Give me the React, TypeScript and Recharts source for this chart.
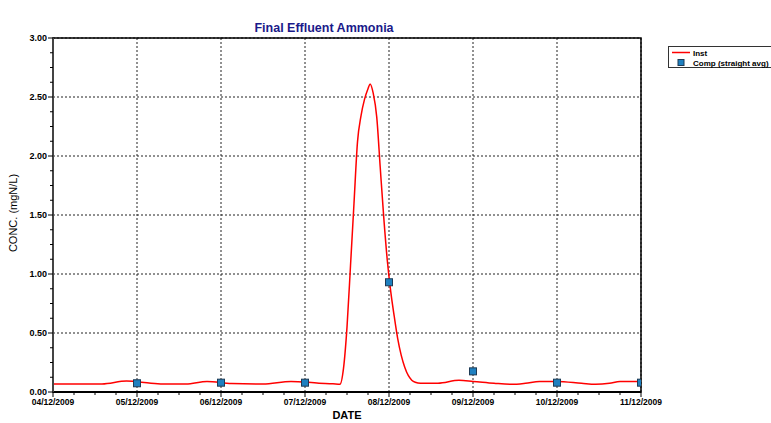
import React from "react";
import {
  ComposedChart,
  Line,
  XAxis,
  YAxis,
  CartesianGrid,
  ReferenceArea,
  Legend,
} from "recharts";

// hours since 04/12/2009 00:00
const instHours = [
  0, 8, 14, 21, 28, 32, 38, 44, 51, 60, 68, 76, 80, 82, 83, 84, 85, 86, 87, 88,
  89, 90, 90.6, 91.5, 92.5, 93.5, 94.5, 95.5, 96.5, 97.5, 98.5, 99.5, 100.5,
  101.5, 102.5, 103.5, 105, 110, 116, 120, 126, 131, 135, 139, 144, 151, 155,
  159, 162, 168,
];
const instValues = [
  0.068, 0.068, 0.068, 0.093, 0.075, 0.068, 0.068, 0.09, 0.072, 0.068, 0.09,
  0.075, 0.07, 0.066, 0.2, 0.55, 1.07, 1.6, 2.12, 2.34, 2.48, 2.57, 2.61, 2.53,
  2.33, 1.9, 1.48, 1.12, 0.85, 0.64, 0.45, 0.31, 0.21, 0.14, 0.1, 0.082, 0.074,
  0.074, 0.099, 0.09, 0.074, 0.065, 0.074, 0.09, 0.09, 0.074, 0.065, 0.074,
  0.09, 0.09,
];

const compHours = [24, 48, 72, 96, 120, 144, 168];
const compValues = [0.074, 0.079, 0.079, 0.93, 0.175, 0.079, 0.079];

const dateLabels = [
  "04/12/2009",
  "05/12/2009",
  "06/12/2009",
  "07/12/2009",
  "08/12/2009",
  "09/12/2009",
  "10/12/2009",
  "11/12/2009",
];
const yMajorTicks = [0, 0.5, 1, 1.5, 2, 2.5, 3];

const instData = instHours.map((h, i) => ({ h, v: instValues[i] }));
const compData = compHours.map((h, i) => ({ h, v: compValues[i] }));

const dayHours = dateLabels.map((_, i) => i * 24);
const xTicks = dayHours.flatMap((h, i) =>
  i < dayHours.length - 1 ? [h, h + 6, h + 12, h + 18] : [h]
);
const yTicks = yMajorTicks.flatMap((v, i) =>
  i < yMajorTicks.length - 1 ? [v, v + 0.125, v + 0.25, v + 0.375] : [v]
);

const FONT = "'Liberation Sans', Arial, sans-serif";

const DateTick = (props: any) => {
  const { x, y, payload } = props;
  const h = payload.value;
  const major = h % 24 === 0;
  return (
    <g>
      <line x1={x} x2={x} y1={y} y2={y + (major ? 5 : 3)} stroke="#000" />
      {major && (
        <text
          x={x}
          y={y + 13}
          textAnchor="middle"
          fontSize={8.5}
          fontWeight="bold"
          fontFamily={FONT}
          fill="#000"
        >
          {dateLabels[h / 24]}
        </text>
      )}
    </g>
  );
};

const ConcTick = (props: any) => {
  const { x, y, payload } = props;
  const v = payload.value;
  const major = Math.abs(v * 2 - Math.round(v * 2)) < 1e-6;
  return (
    <g>
      <line x1={x - (major ? 5 : 3)} x2={x} y1={y} y2={y} stroke="#000" />
      {major && (
        <text
          x={x - 6}
          y={y + 3.3}
          textAnchor="end"
          fontSize={9}
          fontWeight="bold"
          fontFamily={FONT}
          fill="#000"
        >
          {v.toFixed(2)}
        </text>
      )}
    </g>
  );
};

const SquareDot = (props: any) => {
  const { cx, cy } = props;
  if (cx == null || cy == null) return null;
  return (
    <rect
      x={cx - 3.5}
      y={cy - 3.5}
      width={7}
      height={7}
      fill="#1f80c0"
      stroke="#1d3a55"
      strokeWidth={1}
    />
  );
};

const LegendBox = () => (
  <svg width={103} height={23} style={{ display: "block" }}>
    <rect x={0.5} y={0.5} width={110} height={21} fill="#fff" stroke="#333" />
    <line x1={4} x2={22} y1={6.5} y2={6.5} stroke="#ff0000" strokeWidth={1.5} />
    <text x={25} y={9.5} fontSize={8} fontWeight="bold" fontFamily={FONT}>
      Inst
    </text>
    <rect x={10} y={13.5} width={6} height={6} fill="#1f80c0" stroke="#1d3a55" />
    <text x={25} y={19.5} fontSize={8} fontWeight="bold" fontFamily={FONT}>
      Comp (straight avg)
    </text>
  </svg>
);

export default function App() {
  return (
    <div
      style={{
        position: "relative",
        width: 771,
        height: 423,
        overflow: "hidden",
        background: "#fff",
      }}
    >
      <style>{"body{margin:0}"}</style>
      <ComposedChart
        width={771}
        height={423}
        margin={{ top: 38, right: 130, left: 8, bottom: 0 }}
      >
        <CartesianGrid
          verticalValues={dayHours}
          horizontalValues={yMajorTicks}
          stroke="#222"
          strokeDasharray="2 2"
        />
        <ReferenceArea
          x1={0}
          x2={168}
          y1={0}
          y2={3}
          fill="none"
          stroke="#000"
          strokeWidth={1.5}
          fillOpacity={0}
        />
        <XAxis
          dataKey="h"
          type="number"
          domain={[0, 168]}
          ticks={xTicks}
          interval={0}
          height={31}
          tickSize={0}
          tickMargin={0}
          tickLine={false}
          tick={<DateTick />}
          axisLine={{ stroke: "#000", strokeWidth: 2 }}
          allowDataOverflow
        />
        <YAxis
          type="number"
          domain={[0, 3]}
          ticks={yTicks}
          interval={0}
          width={45}
          tickSize={0}
          tickMargin={0}
          tickLine={false}
          tick={<ConcTick />}
          axisLine={{ stroke: "#444", strokeWidth: 2 }}
          allowDataOverflow
        />
        <Legend
          layout="vertical"
          align="center"
          verticalAlign="middle"
          wrapperStyle={{ position: "absolute", left: 668, top: 46, width: 103 }}
          content={() => <LegendBox />}
        />
        <Line
          data={instData}
          dataKey="v"
          name="Inst"
          type="monotone"
          stroke="#ff0000"
          strokeWidth={1.5}
          dot={false}
          isAnimationActive={false}
        />
        <Line
          data={compData}
          dataKey="v"
          name="Comp (straight avg)"
          stroke="none"
          dot={<SquareDot />}
          activeDot={false}
          isAnimationActive={false}
        />
      </ComposedChart>
      <svg
        width={771}
        height={423}
        style={{ position: "absolute", left: 0, top: 0, pointerEvents: "none" }}
      >
        <text
          x={324}
          y={32}
          textAnchor="middle"
          fontSize={12.5}
          fontWeight="bold"
          fontFamily={FONT}
          fill="#1a1a8a"
        >
          Final Effluent Ammonia
        </text>
        <text
          x={347}
          y={419}
          textAnchor="middle"
          fontSize={11}
          fontWeight="bold"
          fontFamily={FONT}
          fill="#000"
        >
          DATE
        </text>
        <text
          transform="translate(17,213) rotate(-90)"
          textAnchor="middle"
          fontSize={11}
          fontFamily={FONT}
          fill="#000"
        >
          CONC. (mgN/L)
        </text>
      </svg>
    </div>
  );
}
